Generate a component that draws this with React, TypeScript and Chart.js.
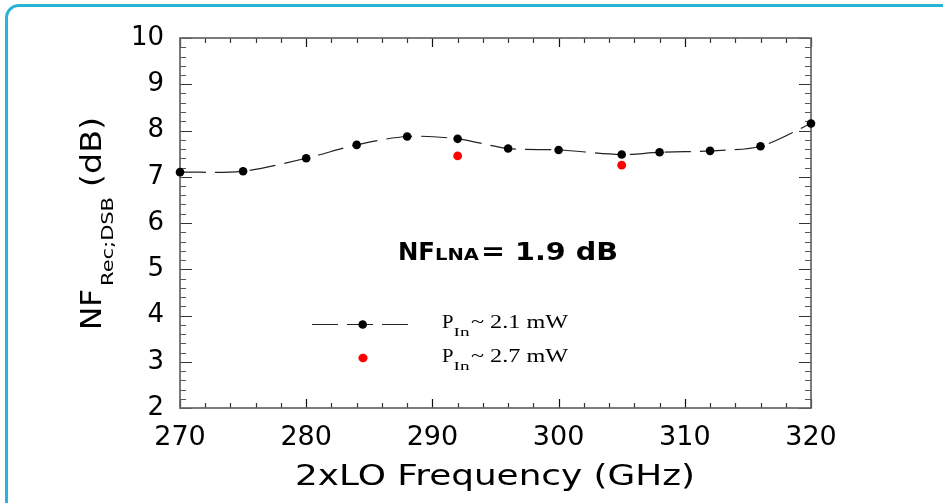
import React, { useEffect, useRef } from "react";
import { Chart, registerables } from "chart.js";

Chart.register(...registerables);

// ---- data ----
const freqPin21 = [270, 275, 280, 284, 288, 292, 296, 300, 305, 308, 312, 316, 320];
const nfPin21 = [7.1, 7.12, 7.4, 7.69, 7.87, 7.82, 7.61, 7.58, 7.48, 7.53, 7.56, 7.66, 8.15];
const freqPin27 = [292, 305];
const nfPin27 = [7.45, 7.25];
const xMin = 270;
const xMax = 320;
const yMin = 2;
const yMax = 10;
const legendLabels = ["~ 2.1 mW", "~ 2.7 mW"];
const xTitle = "2xLO Frequency (GHz)";
const annotation = ["NF", "LNA", "= 1.9 dB"];

const SANS = "'DejaVu Sans', Verdana, sans-serif";
const SERIF = "'Liberation Serif', 'Times New Roman', serif";

function fitText(
  ctx: CanvasRenderingContext2D,
  s: string,
  x: number,
  y: number,
  font: string,
  width?: number
) {
  ctx.save();
  ctx.font = font;
  ctx.textAlign = "left";
  ctx.textBaseline = "alphabetic";
  const w = ctx.measureText(s).width;
  const sx = width ? width / w : 1;
  ctx.translate(x, y);
  ctx.scale(sx, 1);
  ctx.fillText(s, 0, 0);
  ctx.restore();
}

const decor = {
  id: "decor",
  beforeDatasetsDraw(chart: any) {
    const { ctx, chartArea, scales } = chart;
    const { left, right, top, bottom } = chartArea;
    const xs = scales.x;
    const ys = scales.y;
    ctx.save();
    ctx.lineWidth = 1.2;
    for (let i = 0; i <= (xMax - xMin) / 2; i++) {
      const v = xMin + i * 2;
      const px = Math.round(xs.getPixelForValue(v)) + 0.5;
      const major = v % 10 === 0;
      const len = major ? 9 : 5;
      ctx.strokeStyle = major ? "#111" : "#333";
      ctx.beginPath();
      ctx.moveTo(px, bottom);
      ctx.lineTo(px, bottom - len);
      ctx.moveTo(px, top);
      ctx.lineTo(px, top + len);
      ctx.stroke();
    }
    for (let i = 0; i <= (yMax - yMin) * 5; i++) {
      const v = yMin + i / 5;
      const py = Math.round(ys.getPixelForValue(v)) + 0.5;
      const major = i % 5 === 0;
      const len = major ? 12 : 6;
      ctx.strokeStyle = major ? "#333" : "#555";
      ctx.beginPath();
      ctx.moveTo(left, py);
      ctx.lineTo(left + len, py);
      ctx.moveTo(right, py);
      ctx.lineTo(right - len, py);
      ctx.stroke();
    }
    ctx.strokeStyle = "#666";
    ctx.lineWidth = 1.7;
    ctx.strokeRect(left, top, right - left, bottom - top);
    ctx.restore();
  },
  afterDraw(chart: any) {
    const { ctx } = chart;
    ctx.save();
    ctx.fillStyle = "#000";

    // x title
    fitText(ctx, xTitle, 295, 485, `28px ${SANS}`, 400);

    // y title (rotated)
    ctx.save();
    ctx.translate(101, 330);
    ctx.rotate(-Math.PI / 2);
    fitText(ctx, "NF", 0, 0, `29px ${SANS}`, 41);
    fitText(ctx, "Rec;DSB", 44, 12, `16px ${SANS}`, 89);
    fitText(ctx, "(dB)", 143, 0, `29px ${SANS}`, 70);
    ctx.restore();

    // annotation
    fitText(ctx, annotation[0], 398, 260, `bold 24px ${SANS}`, 37);
    fitText(ctx, annotation[1], 435, 260, `bold 15px ${SANS}`, 44);
    fitText(ctx, annotation[2], 481, 260, `bold 24px ${SANS}`, 137);

    // legend entry 1
    ctx.save();
    ctx.strokeStyle = "#222";
    ctx.lineWidth = 1.2;
    ctx.setLineDash([26, 9]);
    ctx.beginPath();
    ctx.moveTo(312, 324.5);
    ctx.lineTo(408, 324.5);
    ctx.stroke();
    ctx.restore();
    ctx.beginPath();
    ctx.fillStyle = "#000";
    ctx.arc(362.7, 324.5, 4.3, 0, Math.PI * 2);
    ctx.fill();
    // legend entry 2
    ctx.beginPath();
    ctx.fillStyle = "#ff0000";
    ctx.ellipse(363, 358, 4.6, 4.2, 0, 0, Math.PI * 2);
    ctx.fill();

    ctx.fillStyle = "#000";
    const rows = [328.3, 362.3];
    rows.forEach((by, i) => {
      fitText(ctx, "P", 442, by, `18px ${SERIF}`, 11.5);
      fitText(ctx, "In", 453.5, by + 7.5, `12px ${SERIF}`, 16);
      fitText(ctx, legendLabels[i], 471, by, `19px ${SERIF}`, 97);
    });
    ctx.restore();
  },
};

export default function App() {
  const ref = useRef<HTMLCanvasElement | null>(null);
  useEffect(() => {
    if (!ref.current) return;
    const chart = new Chart(ref.current, {
      type: "line",
      data: {
        datasets: [
          {
            label: "P_In ~ 2.1 mW",
            data: freqPin21.map((f, i) => ({ x: f, y: nfPin21[i] })),
            borderColor: "#222",
            borderWidth: 1.2,
            borderDash: [26, 9],
            backgroundColor: "#000",
            pointBackgroundColor: "#000",
            pointBorderColor: "#000",
            pointRadius: 4.3,
            pointBorderWidth: 0,
            tension: 0.3,
            fill: false,
            clip: false as any,
          },
          {
            label: "P_In ~ 2.7 mW",
            data: freqPin27.map((f, i) => ({ x: f, y: nfPin27[i] })),
            showLine: false,
            pointBackgroundColor: "#ff0000",
            pointBorderColor: "#ff0000",
            pointRadius: 4.4,
            pointBorderWidth: 0,
            clip: false as any,
          },
        ],
      },
      options: {
        animation: false,
        responsive: false,
        events: [],
        layout: { padding: { left: 0, right: 132, top: 38, bottom: 0 } },
        plugins: { legend: { display: false }, tooltip: { enabled: false } },
        scales: {
          x: {
            type: "linear",
            min: xMin,
            max: xMax,
            grid: { display: false, drawTicks: false },
            border: { display: false },
            ticks: {
              stepSize: 10,
              autoSkip: false,
              maxRotation: 0,
              color: "#000",
              padding: 14,
              font: { family: SANS, size: 27 },
            },
            afterFit: (s: any) => {
              s.height = 95;
            },
          },
          y: {
            type: "linear",
            min: yMin,
            max: yMax,
            grid: { display: false, drawTicks: false },
            border: { display: false },
            ticks: {
              stepSize: 1,
              color: "#000",
              padding: 16,
              font: { family: SANS, size: 26 },
            },
            afterFit: (s: any) => {
              s.width = 180;
            },
          },
        },
      },
      plugins: [decor],
    });
    return () => chart.destroy();
  }, []);

  return (
    <div
      style={{
        position: "fixed",
        left: 0,
        top: 0,
        width: 943,
        height: 503,
        overflow: "hidden",
        background: "#fff",
      }}
    >
      <div
        style={{
          position: "absolute",
          left: 5,
          top: 4,
          width: 1000,
          height: 620,
          border: "3px solid #27b4d6",
          borderRadius: 14,
          boxSizing: "border-box",
        }}
      />
      <canvas
        ref={ref}
        width={943}
        height={503}
        style={{ position: "absolute", left: 0, top: 0, width: 943, height: 503 }}
      />
    </div>
  );
}
